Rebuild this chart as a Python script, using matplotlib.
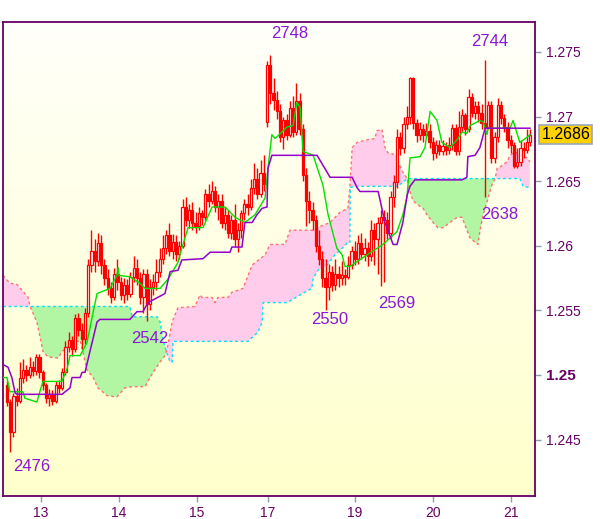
import numpy as np
import matplotlib
matplotlib.use('Agg')
import matplotlib.pyplot as plt
import matplotlib.transforms as mtransforms
from matplotlib.colors import LinearSegmentedColormap

plt.rcParams['font.family'] = ['Liberation Sans', 'DejaVu Sans']

# hourly bars, prices in pips above 1.0 (2489 -> 1.2489)
opens = [2492, 2479, 2456, 2484, 2480, 2498, 2504, 2500, 2506, 2503,
         2514, 2502, 2492, 2482, 2485, 2480, 2492, 2490, 2502, 2522,
         2527, 2520, 2544, 2535, 2528, 2548, 2585, 2596, 2588, 2602,
         2585, 2575, 2567, 2560, 2578, 2572, 2562, 2570, 2563, 2576,
         2583, 2575, 2560, 2578, 2555, 2568, 2572, 2580, 2590, 2598,
         2608, 2596, 2603, 2594, 2600, 2630, 2620, 2628, 2618, 2615,
         2625, 2622, 2640, 2635, 2642, 2630, 2635, 2618, 2624, 2610,
         2620, 2605, 2612, 2625, 2632, 2630, 2645, 2652, 2640, 2656,
         2696, 2740, 2718, 2713, 2704, 2684, 2697, 2686, 2707, 2688,
         2712, 2690, 2655, 2635, 2628, 2620, 2600, 2590, 2575, 2568,
         2580, 2570, 2578, 2575, 2577, 2576, 2585, 2596, 2590, 2602,
         2594, 2598, 2592, 2612, 2605, 2618, 2622, 2620, 2610, 2638,
         2649, 2684, 2676, 2694, 2700, 2730, 2695, 2686, 2690, 2686,
         2689, 2680, 2672, 2678, 2673, 2677, 2674, 2678, 2691, 2673,
         2692, 2701, 2690, 2715, 2703, 2708, 2703, 2695, 2692, 2709,
         2668, 2684, 2709, 2699, 2692, 2682, 2678, 2662, 2665, 2676,
         2674, 2680]
highs = [2495, 2481, 2486, 2490, 2510, 2512, 2508, 2514, 2511, 2516,
         2516, 2504, 2494, 2489, 2488, 2495, 2496, 2505, 2526, 2533,
         2530, 2547, 2548, 2540, 2552, 2590, 2612, 2605, 2610, 2608,
         2590, 2582, 2572, 2583, 2590, 2576, 2575, 2574, 2580, 2592,
         2590, 2580, 2582, 2582, 2574, 2578, 2590, 2598, 2608, 2612,
         2618, 2609, 2608, 2604, 2636, 2638, 2632, 2634, 2626, 2630,
         2628, 2644, 2648, 2650, 2646, 2640, 2640, 2630, 2628, 2624,
         2632, 2618, 2628, 2636, 2640, 2652, 2664, 2660, 2666, 2670,
         2743, 2748, 2730, 2720, 2710, 2700, 2702, 2712, 2716, 2726,
         2718, 2694, 2660, 2642, 2634, 2624, 2612, 2596, 2590, 2586,
         2584, 2590, 2584, 2588, 2582, 2592, 2600, 2604, 2608, 2610,
         2606, 2603, 2620, 2618, 2622, 2628, 2628, 2626, 2642, 2655,
         2690, 2688, 2700, 2708, 2731, 2731, 2698, 2696, 2694, 2695,
         2694, 2684, 2682, 2682, 2682, 2680, 2684, 2694, 2694, 2704,
         2706, 2703, 2721, 2718, 2712, 2712, 2710, 2744, 2712, 2712,
         2688, 2714, 2712, 2702, 2696, 2686, 2680, 2676, 2682, 2680,
         2690, 2690]
lows = [2476, 2440, 2452, 2476, 2478, 2494, 2495, 2498, 2499, 2500,
        2498, 2488, 2478, 2476, 2477, 2478, 2486, 2488, 2500, 2518,
        2515, 2518, 2530, 2520, 2524, 2545, 2580, 2580, 2584, 2578,
        2570, 2562, 2556, 2558, 2566, 2558, 2556, 2558, 2560, 2572,
        2570, 2555, 2548, 2542, 2550, 2562, 2566, 2576, 2586, 2594,
        2592, 2590, 2588, 2590, 2598, 2615, 2614, 2612, 2610, 2612,
        2616, 2620, 2630, 2632, 2626, 2620, 2614, 2612, 2606, 2605,
        2600, 2595, 2606, 2620, 2624, 2628, 2640, 2636, 2638, 2642,
        2692, 2710, 2705, 2698, 2680, 2675, 2682, 2684, 2684, 2686,
        2686, 2650, 2615, 2618, 2612, 2595, 2585, 2568, 2550, 2558,
        2565, 2566, 2568, 2570, 2570, 2574, 2582, 2585, 2586, 2590,
        2588, 2584, 2588, 2585, 2578, 2569, 2572, 2605, 2606, 2630,
        2645, 2670, 2672, 2690, 2694, 2690, 2680, 2682, 2680, 2684,
        2676, 2666, 2668, 2670, 2670, 2670, 2671, 2674, 2670, 2670,
        2688, 2686, 2688, 2700, 2698, 2696, 2690, 2638, 2690, 2664,
        2664, 2680, 2694, 2688, 2676, 2672, 2660, 2660, 2662, 2668,
        2672, 2677]
closes = [2479, 2456, 2484, 2480, 2498, 2504, 2500, 2506, 2503, 2514,
          2502, 2492, 2482, 2485, 2480, 2492, 2490, 2502, 2522, 2527,
          2520, 2544, 2535, 2528, 2548, 2585, 2596, 2588, 2602, 2585,
          2575, 2567, 2560, 2578, 2572, 2562, 2570, 2563, 2576, 2583,
          2575, 2560, 2578, 2555, 2568, 2572, 2580, 2590, 2598, 2608,
          2596, 2603, 2594, 2600, 2630, 2620, 2628, 2618, 2615, 2625,
          2622, 2640, 2635, 2642, 2630, 2635, 2618, 2624, 2610, 2620,
          2605, 2612, 2625, 2632, 2630, 2645, 2652, 2640, 2656, 2648,
          2740, 2718, 2713, 2704, 2684, 2697, 2686, 2707, 2688, 2712,
          2690, 2655, 2635, 2628, 2620, 2600, 2590, 2575, 2568, 2580,
          2570, 2578, 2575, 2577, 2576, 2585, 2596, 2590, 2602, 2594,
          2598, 2592, 2612, 2605, 2618, 2622, 2620, 2610, 2638, 2649,
          2684, 2676, 2694, 2700, 2730, 2695, 2686, 2690, 2686, 2689,
          2680, 2672, 2678, 2673, 2677, 2674, 2678, 2691, 2673, 2692,
          2701, 2690, 2715, 2703, 2708, 2703, 2695, 2692, 2709, 2668,
          2684, 2709, 2699, 2692, 2682, 2678, 2662, 2665, 2676, 2674,
          2680, 2686]

# ichimoku lines: (bar index, pips)
tenkan_x = [-1.2, 0, 0.9, 4.9, 5.5, 9.2, 10.2, 11.1, 16.9, 18.5, 19.4, 22.5,
            24.6, 27.7, 31.7, 33.8, 34.2, 34.5, 37.8, 40.9, 42.5, 47.1, 49.5,
            52.6, 53.2, 55.7, 60.3, 63.1, 67.1, 70.2, 73.2, 76.3, 79.4, 80.3,
            81.5, 82.5, 86.2, 88, 89.2, 90.2, 91.1, 94.2, 97.2, 98.8, 101.5,
            103.1, 104, 105.5, 110.8, 115.7, 120, 121.8, 123.1, 124, 127.1,
            128.6, 130.2, 132.3, 133.8, 136.3, 138.8, 140, 141.5, 142.5, 145.5,
            146.5, 147.7, 148, 154.8, 155.7, 157.8, 160, 160.9]
tenkan_y = [2498, 2498, 2487, 2487, 2482, 2479, 2488, 2495, 2495, 2505, 2515, 2515,
            2525, 2563, 2567, 2577, 2583, 2577, 2576, 2571, 2567, 2567, 2574,
            2587, 2593, 2614, 2614, 2630, 2630, 2622, 2618, 2624, 2637, 2660,
            2686, 2683, 2692, 2693, 2711, 2707, 2673, 2670, 2647, 2624, 2598,
            2593, 2584, 2584, 2593, 2601, 2611, 2624, 2638, 2668, 2669,
            2676, 2704, 2697, 2680, 2676, 2683, 2688, 2687, 2693, 2697,
            2696, 2686, 2691, 2691, 2697, 2680, 2684, 2686]

kijun_x = [-1.2, 0.3, 1.5, 2.5, 3.1, 16.9, 19.4, 20, 22.5, 23.1, 24, 25.5, 27.7,
           28.6, 37.8, 40, 41.8, 43.4, 48.6, 50.2, 52.6, 53.8, 60.3, 62.5, 68.6,
           69.2, 72.3, 73.2, 75.4, 76.9, 78.5, 80, 80.3, 81.5, 95.4, 99.4, 106.2,
           107.7, 108.6, 114.2, 116.3, 118.8, 120, 121.8, 123.1, 124, 125.5, 140,
           141.5, 141.8, 144, 145.5, 147.1, 160.9]
kijun_y = [2508, 2506, 2498, 2486, 2485, 2485, 2490, 2498, 2498, 2502, 2502, 2518, 2541,
           2543, 2543, 2549, 2549, 2556, 2563, 2580, 2581, 2589, 2590, 2595, 2595,
           2599, 2599, 2618, 2618, 2624, 2629, 2630, 2660, 2670, 2670, 2653, 2653,
           2645, 2642, 2642, 2618, 2601, 2601, 2618, 2639, 2646, 2651, 2651,
           2653, 2669, 2670, 2676, 2691, 2691]

# cloud edge drawn dashed salmon
span_red_x = [-1.2, 0.9, 3.1, 5.5, 6.5, 7.1, 9.2, 11.1, 12.6, 15.7, 16.9, 19.4,
              22.5, 24.6, 26.5, 28, 30.8, 33.8, 36.3, 38.8, 42.5, 44, 45.5, 47.1,
              48.6, 49.5, 50.8, 52.6, 57.8, 59.4, 60, 63.1, 64, 64.9, 68, 69.2,
              72.6, 74.2, 75.4, 79.4, 80.9, 85.5, 87.1, 94.2, 95.4, 99.4, 102.5,
              104.9, 105.5, 106.2, 107.7, 110.8, 113.2, 113.8, 115.4, 116.3, 117.2,
              120, 120.3, 121.8, 123.1, 124, 124.9, 126.2, 128, 129.2, 131.1, 132.6,
              134.2, 136.3, 138.5, 140, 140.9, 142.5, 144.9, 145.5, 146.5, 147.7,
              149.2, 150.2, 150.8, 151.7, 153.8, 154.8, 156.3, 157.8, 160, 160.9]
span_red_y = [2577, 2571, 2570, 2563, 2560, 2553, 2541, 2518, 2514, 2513, 2518, 2523,
              2527, 2504, 2498, 2490, 2484, 2483, 2490, 2491, 2491, 2498, 2504, 2510,
              2515, 2523, 2541, 2552, 2553, 2562, 2560, 2560, 2556, 2560, 2560, 2564,
              2567, 2577, 2585, 2593, 2601, 2601, 2612, 2612, 2614, 2618, 2626,
              2629, 2645, 2676, 2680, 2682, 2683, 2689, 2690, 2676, 2672,
              2670, 2665, 2657, 2652, 2642, 2635, 2632, 2629, 2624, 2618, 2614,
              2614, 2618, 2622, 2622, 2616, 2606, 2601, 2611, 2624, 2634,
              2647, 2652, 2660, 2661, 2665, 2670, 2673, 2670, 2668, 2665]

# cloud edge drawn dashed cyan
span_cyan_x = [-1.2, 37.8, 38.5, 46.2, 47.1, 48, 49.2, 50.2, 50.8, 51.1, 74.2,
               75.4, 77.2, 78.5, 78.8, 86.2, 90.2, 93.8, 94.2, 95.7, 98.5, 100.9,
               103.1, 104.6, 105.5, 105.6, 107.1, 120, 121.8, 123.1, 157.8, 158.8,
               160.9]
span_cyan_y = [2553, 2553, 2545, 2545, 2541, 2527, 2517, 2510, 2510, 2526, 2526,
               2529, 2533, 2541, 2556, 2556, 2562, 2567, 2575, 2581, 2585, 2593,
               2598, 2602, 2602, 2645, 2646, 2646, 2649, 2652, 2652, 2646,
               2645]

# fractal labels (text, bar position, pips)
frac_text = ['2748', '2744', '2476', '2542', '2550', '2569', '2638']
frac_x = [87.1, 148.6, 7.6, 44.0, 99.3, 119.8, 151.7]
frac_y = [2764, 2758, 2429, 2528, 2543, 2555, 2624]

tick_pos = [10.5, 34.5, 58.5, 80.3, 107.1, 131.1, 155.1]
tick_days = ['13', '14', '15', '17', '19', '20', '21']
price_ticks = [1.245, 1.25, 1.255, 1.26, 1.265, 1.27, 1.275]
price_labels = ['1.245', '1.25', '1.255', '1.26', '1.265', '1.27', '1.275']

PIP = 0.0001


def px(v):
    return 1.0 + np.asarray(v, dtype=float) * PIP


o, h, l, c = px(opens), px(highs), px(lows), px(closes)
idx = np.arange(len(c))

fig = plt.figure(figsize=(6.0, 5.19), dpi=100, facecolor='white')
ax = fig.add_axes([3 / 600, 23 / 519, 532 / 600, 474 / 519])
ax.set_xlim(-1.23, 162.46)
ax.set_ylim(1.24063, 1.27732)

# background gradient
bg = LinearSegmentedColormap.from_list('bg', ['#ffffcc', '#fffffa'])
ax.imshow(np.linspace(0, 1, 256).reshape(-1, 1), cmap=bg, origin='lower',
          extent=[0, 1, 0, 1], transform=ax.transAxes, aspect='auto', zorder=0)

# cloud
grid = np.union1d(span_red_x, span_cyan_x)
red_g = np.interp(grid, span_red_x, px(span_red_y))
cyan_g = np.interp(grid, span_cyan_x, px(span_cyan_y))
ax.fill_between(grid, red_g, cyan_g, where=cyan_g >= red_g, interpolate=True,
                color='#b2f5a2', lw=0, zorder=1)
ax.fill_between(grid, red_g, cyan_g, where=red_g >= cyan_g, interpolate=True,
                color='#ffcceb', lw=0, zorder=1)
ax.plot(span_red_x, px(span_red_y), color='#ff7070', lw=1.0, ls=(0, (2, 2)), zorder=2)
ax.plot(span_cyan_x, px(span_cyan_y), color='#00e4f4', lw=1.0, ls=(0, (2, 2)), zorder=2)

# candles
ax.vlines(idx, l, h, color='#ff0000', lw=1.0, zorder=3)
bull = c >= o
ax.bar(idx, np.abs(c - o), bottom=np.minimum(o, c), width=0.72,
       color=np.where(bull, '#ffffff', '#ff0000'), edgecolor='#ff0000',
       linewidth=0.9, zorder=4)

# tenkan / kijun
ax.plot(tenkan_x, px(tenkan_y), color='#00e000', lw=1.0, zorder=5)
ax.plot(kijun_x, px(kijun_y), color='#9400cc', lw=1.1, zorder=5)

for t, xx, yy in zip(frac_text, frac_x, frac_y):
    ax.text(xx, px(yy), t, color='#8a16d6', fontsize=12, ha='center', va='center', zorder=6)

# axes styling
for s in ax.spines.values():
    s.set_color('#660066')
    s.set_linewidth(1.3)
ax.yaxis.tick_right()
ax.set_yticks(price_ticks)
ax.set_yticklabels(price_labels)
ax.set_xticks(tick_pos)
ax.set_xticklabels(tick_days)
ax.tick_params(direction='out', length=4, width=1, color='#8c9cb0',
               labelcolor='#660066', labelsize=10, pad=3)
ax.tick_params(axis='y', pad=4)
for lab in ax.get_yticklabels():
    if lab.get_text() == '1.25':
        lab.set_fontweight('bold')
        lab.set_fontsize(11)

# last price box
trans = mtransforms.blended_transform_factory(ax.transAxes, ax.transData)
ax.text(1.012, c[-1], '%.4f' % c[-1], transform=trans, ha='left', va='center',
        fontsize=11.5, color='black', zorder=7, clip_on=False,
        bbox=dict(boxstyle='square,pad=0.12', facecolor='#ffd200', edgecolor='#9aa8b8', lw=1.2))

fig.savefig('out.png', dpi=100, facecolor='white')
